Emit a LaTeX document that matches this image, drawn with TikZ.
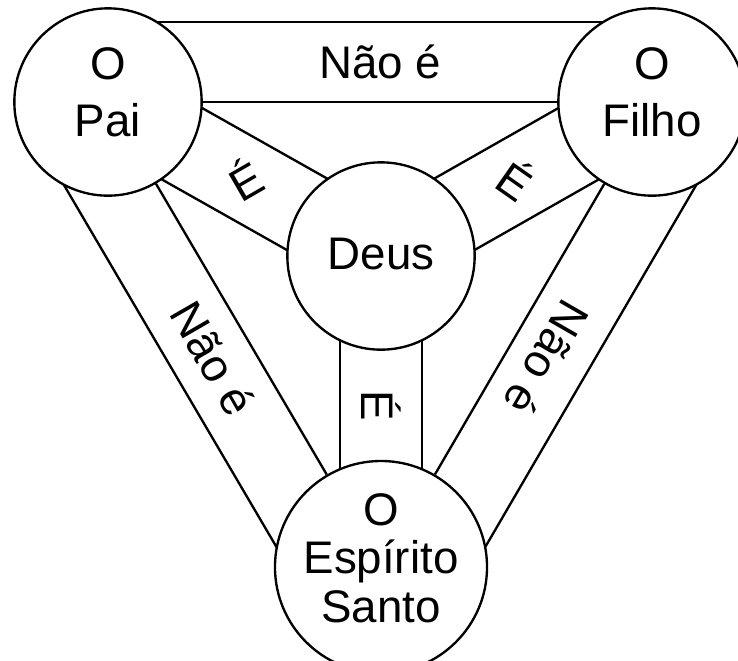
\documentclass[tikz,border=0pt]{standalone}
\usepackage{fontspec}
\setmainfont{Liberation Sans}
\usetikzlibrary{calc, backgrounds}

\begin{document}
\begin{tikzpicture}[
  x=0.03cm, y=-0.03cm,
  person/.style={circle, draw, line width=2pt, fill=white, minimum size=5.62cm,
                 inner sep=0pt, align=center, font=\fontsize{39}{49}\selectfont},
  band/.style={line width=2pt},
  rel/.style={font=\fontsize{39}{47}\selectfont, inner sep=0pt}
]
  \useasboundingbox (0,0) rectangle (738,660);
  \clip (0,0) rectangle (738,660);

  % Persons
  \node[person, text depth=0.6cm] (pai) at (108,102) {O\\Pai};
  \node[person, text depth=0.6cm] (filho) at (652,102) {O\\Filho};
  \node[person, text depth=0.15cm] (deus) at (381,256) {Deus};
  \node[person, text depth=0.54cm, font=\fontsize{39}{41}\selectfont] (esp) at (381,567) {O\\Espírito\\Santo};

  \begin{scope}[on background layer]
    \fill[white] (0,0) rectangle (738,660);
    % Outer bands
    \draw[band] (pai) -- (filho);
    \draw[band] ($(pai)!2.4cm!90:(filho)$) -- ($(filho)!2.4cm!-90:(pai)$);
    \draw[band] (pai) -- (esp);
    \draw[band] ($(pai)!2.4cm!-90:(esp)$) -- ($(esp)!2.4cm!90:(pai)$);
    \draw[band] (filho) -- (esp);
    \draw[band] ($(filho)!2.4cm!90:(esp)$) -- ($(esp)!2.4cm!-90:(filho)$);
    % Inner bands
    \draw[band] ($(pai)!1.23cm!90:(deus)$) -- ($(deus)!1.23cm!-90:(pai)$);
    \draw[band] ($(pai)!1.23cm!-90:(deus)$) -- ($(deus)!1.23cm!90:(pai)$);
    \draw[band] ($(filho)!1.23cm!90:(deus)$) -- ($(deus)!1.23cm!-90:(filho)$);
    \draw[band] ($(filho)!1.23cm!-90:(deus)$) -- ($(deus)!1.23cm!90:(filho)$);
    \draw[band] ($(deus)!1.23cm!90:(esp)$) -- ($(esp)!1.23cm!-90:(deus)$);
    \draw[band] ($(deus)!1.23cm!-90:(esp)$) -- ($(esp)!1.23cm!90:(deus)$);
  \end{scope}

  % Labels
  \node[rel] (nao1) at (380,62) {Não é};
  \node[rel, rotate=-60] (nao2) at (213,358) {Não é};
  \node[rel, rotate=-120] (nao3) at (547,358) {Não é};
  \node[rel, rotate=30] (e1) at ($(pai)!0.5!(deus)$) {É};
  \node[rel, rotate=-35] (e2) at ($(filho)!0.5!(deus)$) {É};
  \node[rel, rotate=-90] (e3) at ($(deus)!0.48!(esp)$) {É};
\end{tikzpicture}
\end{document}
